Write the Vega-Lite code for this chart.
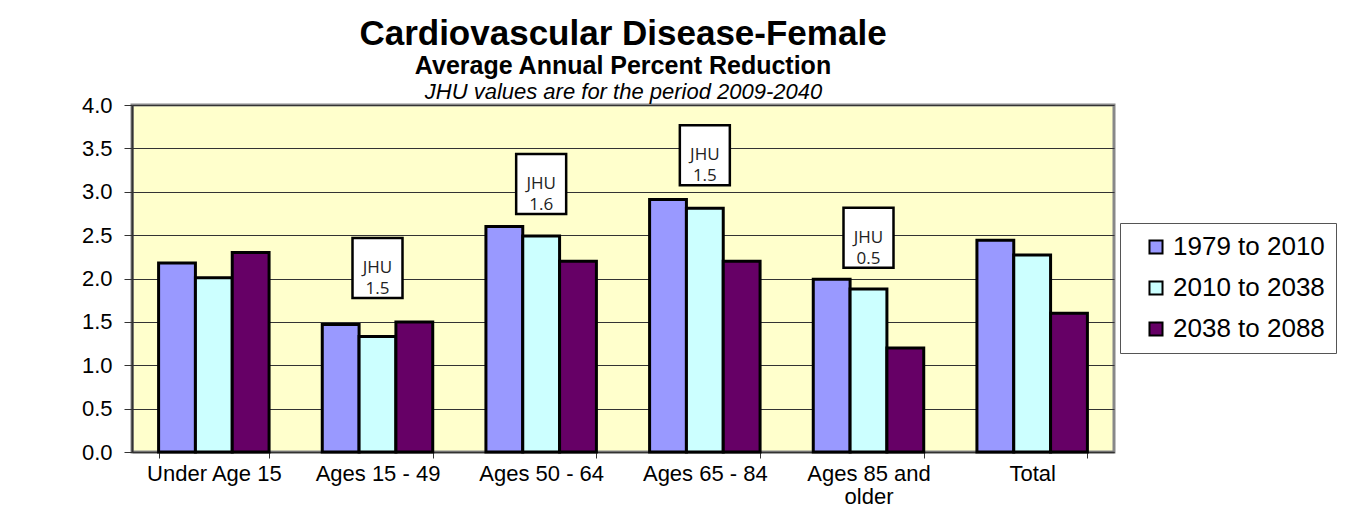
{
  "$schema": "https://vega.github.io/schema/vega-lite/v6.json",
  "autosize": {"type": "none"},
  "padding": {"left": 132, "top": 105, "right": 235, "bottom": 77},
  "width": 982,
  "height": 347,
  "background": "#FFFFFF",
  "title": {
    "text": "Cardiovascular Disease-Female",
    "subtitle": "Average Annual Percent Reduction",
    "anchor": "middle",
    "font": "Liberation Sans",
    "fontSize": 35,
    "fontWeight": "bold",
    "color": "#000000",
    "subtitleFont": "Liberation Sans",
    "subtitleFontSize": 25,
    "subtitleFontWeight": "bold",
    "subtitleColor": "#000000",
    "subtitlePadding": 2,
    "offset": 1
  },
  "config": {
    "view": {"fill": "#FFFFCC", "stroke": "#888888", "strokeWidth": 3},
    "font": "Liberation Sans"
  },
  "datasets": {
    "bars": [
      {"group": "Under Age 15", "period": "1979 to 2010", "value": 2.18},
      {"group": "Under Age 15", "period": "2010 to 2038", "value": 2.01},
      {"group": "Under Age 15", "period": "2038 to 2088", "value": 2.30},
      {"group": "Ages 15 - 49", "period": "1979 to 2010", "value": 1.47},
      {"group": "Ages 15 - 49", "period": "2010 to 2038", "value": 1.33},
      {"group": "Ages 15 - 49", "period": "2038 to 2088", "value": 1.50},
      {"group": "Ages 50 - 64", "period": "1979 to 2010", "value": 2.60},
      {"group": "Ages 50 - 64", "period": "2010 to 2038", "value": 2.49},
      {"group": "Ages 50 - 64", "period": "2038 to 2088", "value": 2.20},
      {"group": "Ages 65 - 84", "period": "1979 to 2010", "value": 2.91},
      {"group": "Ages 65 - 84", "period": "2010 to 2038", "value": 2.81},
      {"group": "Ages 65 - 84", "period": "2038 to 2088", "value": 2.20},
      {"group": "Ages 85 and older", "period": "1979 to 2010", "value": 1.99},
      {"group": "Ages 85 and older", "period": "2010 to 2038", "value": 1.88},
      {"group": "Ages 85 and older", "period": "2038 to 2088", "value": 1.20},
      {"group": "Total", "period": "1979 to 2010", "value": 2.44},
      {"group": "Total", "period": "2010 to 2038", "value": 2.27},
      {"group": "Total", "period": "2038 to 2088", "value": 1.60}
    ],
    "jhu": [
      {"group": "Ages 15 - 49", "label": "JHU\n1.5", "pos": 2.12},
      {"group": "Ages 50 - 64", "label": "JHU\n1.6", "pos": 3.09},
      {"group": "Ages 65 - 84", "label": "JHU\n1.5", "pos": 3.42},
      {"group": "Ages 85 and older", "label": "JHU\n0.5", "pos": 2.47}
    ]
  },
  "resolve": {"axis": {"x": "independent"}},
  "layer": [
    {
      "data": {"name": "bars"},
      "mark": {"type": "bar", "stroke": "#000000", "strokeWidth": 3, "opacity": 1},
      "encoding": {
        "x": {
          "field": "group",
          "type": "nominal",
          "sort": ["Under Age 15", "Ages 15 - 49", "Ages 50 - 64", "Ages 65 - 84", "Ages 85 and older", "Total"],
          "scale": {"paddingInner": 0.325, "paddingOuter": 0.1625},
          "axis": {
            "orient": "bottom",
            "title": null,
            "labelAngle": 0,
            "labelFont": "Liberation Sans",
            "labelFontSize": 22,
            "labelColor": "#000000",
            "labelPadding": 5,
            "labelLineHeight": 23,
            "labelExpr": "datum.label == 'Ages 85 and older' ? ['Ages 85 and', 'older'] : datum.label",
            "tickBand": "extent",
            "tickSize": 6,
            "tickColor": "#333333",
            "domainColor": "#333333",
            "domainWidth": 1.5,
            "grid": false
          }
        },
        "xOffset": {"field": "period", "type": "nominal", "scale": {"paddingInner": 0, "paddingOuter": 0}},
        "y": {
          "field": "value",
          "type": "quantitative",
          "scale": {"domain": [0, 4], "nice": false},
          "axis": {
            "title": null,
            "values": [0, 0.5, 1, 1.5, 2, 2.5, 3, 3.5, 4],
            "format": ".1f",
            "labelFont": "Liberation Sans",
            "labelFontSize": 22,
            "labelColor": "#000000",
            "labelPadding": 12,
            "tickSize": 8,
            "tickColor": "#333333",
            "domainColor": "#333333",
            "domainWidth": 2,
            "grid": true,
            "gridColor": "#333333",
            "gridWidth": 1
          }
        },
        "color": {
          "field": "period",
          "type": "nominal",
          "scale": {
            "domain": ["1979 to 2010", "2010 to 2038", "2038 to 2088"],
            "range": ["#9999FF", "#CCFFFF", "#660066"]
          },
          "legend": {
            "title": null,
            "orient": "none",
            "legendX": 988,
            "legendY": 118,
            "fillColor": "#FFFFFF",
            "strokeColor": "#555555",
            "padding": 11,
            "rowPadding": 15,
            "symbolType": "square",
            "symbolSize": 170,
            "symbolStrokeColor": "#000000",
            "symbolStrokeWidth": 2,
            "symbolOffset": 12,
            "labelFont": "Liberation Sans",
            "labelFontSize": 26,
            "labelColor": "#000000",
            "labelOffset": 4,
            "labelLimit": 300
          }
        }
      }
    },
    {
      "data": {"name": "jhu"},
      "mark": {
        "type": "point",
        "shape": "M-1,-1.2H1V1.2H-1Z",
        "filled": true,
        "fill": "#FFFFFF",
        "stroke": "#000000",
        "strokeWidth": 2.5,
        "opacity": 1,
        "size": 2500
      },
      "encoding": {
        "x": {
          "field": "group",
          "type": "nominal",
          "sort": ["Under Age 15", "Ages 15 - 49", "Ages 50 - 64", "Ages 65 - 84", "Ages 85 and older", "Total"],
          "axis": {
            "orient": "top",
            "title": "JHU values are for the period 2009-2040",
            "titleFont": "Liberation Sans",
            "titleFontSize": 22,
            "titleFontStyle": "italic",
            "titleFontWeight": "normal",
            "titleColor": "#000000",
            "titlePadding": 2,
            "labels": false,
            "ticks": false,
            "domain": false,
            "grid": false
          }
        },
        "y": {"field": "pos", "type": "quantitative"}
      }
    },
    {
      "data": {"name": "jhu"},
      "mark": {
        "type": "text",
        "font": "Open Sans",
        "fontSize": 17,
        "lineBreak": "\n",
        "lineHeight": 21,
        "align": "center",
        "baseline": "middle",
        "color": "#222222"
      },
      "encoding": {
        "x": {
          "field": "group",
          "type": "nominal",
          "sort": ["Under Age 15", "Ages 15 - 49", "Ages 50 - 64", "Ages 65 - 84", "Ages 85 and older", "Total"],
          "axis": null
        },
        "y": {"field": "pos", "type": "quantitative"},
        "text": {"field": "label"}
      }
    }
  ]
}
